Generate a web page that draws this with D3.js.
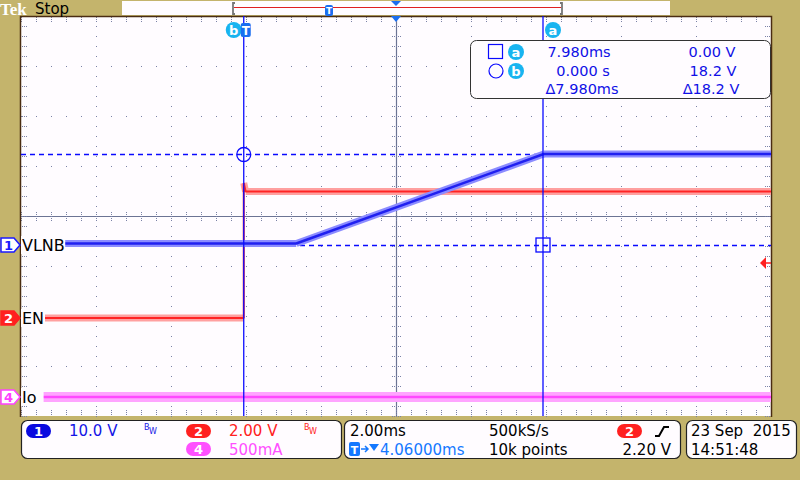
<!DOCTYPE html>
<html><head><meta charset="utf-8">
<script src="https://cdn.jsdelivr.net/npm/d3@7"></script>
<style>html,body{margin:0;padding:0;background:#c4b46c;}svg{display:block;}</style>
</head><body>
<script>
// ---- data (time in ms, channel values in V / A) ----
const horizCenterMs = 4.06;     // horizontal position
const msPerDiv = 2.0;
const ch1Name = "VLNB", ch2Name = "EN", ch4Name = "Io";
const ch1Scale = 10.0, ch2Scale = 2.0, ch4Scale = 0.5;   // per division
const ch1Pos = -0.58, ch2Pos = -2.04, ch4Pos = -3.62;    // ground position, divisions
const ch1Time = [-4.77, 1.40, 8.00, 14.06];
const ch1Volt = [0.3, 0.3, 18.2, 18.2];
const ch2Time = [-5.30, 0.00, 0.00, 0.05, 14.06];
const ch2Volt = [0.0, 0.0, 5.40, 5.06, 5.06];
const ch4Time = [-5.44, 14.06];
const ch4Amp = [0.0, 0.0];
const cursorATime = 7.980, cursorBTime = 0.000;
const cursorAVolt = 0.00, cursorBVolt = 18.2;
const triggerLevel = 2.20;
const readoutRows = [["7.980ms", "0.00 V"], ["0.000 s", "18.2 V"], ["\u0394" + "7.980ms", "\u0394" + "18.2 V"]];

const W = 800, H = 480;
const svg = d3.select("body").append("svg").attr("width", W).attr("height", H);
const F = "DejaVu Sans, sans-serif";

const x = d3.scaleLinear().domain([horizCenterMs - 5 * msPerDiv, horizCenterMs + 5 * msPerDiv]).range([21, 771]);
const yDiv = d3.scaleLinear().domain([-4, 4]).range([416, 16]);
const y1 = v => yDiv(ch1Pos + v / ch1Scale);
const y2 = v => yDiv(ch2Pos + v / ch2Scale);
const y4 = v => yDiv(ch4Pos + v / ch4Scale);

// background
svg.append("rect").attr("width", W).attr("height", H).attr("fill", "#c4b46c");
// graticule area
svg.append("rect").attr("x", 21).attr("y", 16).attr("width", 750).attr("height", 400).attr("fill", "#fffcff");

const gridCol = "#7a82a6";
const g = svg.append("g");
// grid dots
for (let k = 1; k < 10; k++) {
  if (k === 5) continue;
  const gx = 21 + k * 75;
  for (let yy = 16; yy <= 416; yy += 10) g.append("rect").attr("x", gx).attr("y", yy).attr("width", 1).attr("height", 1).attr("fill", gridCol);
}
for (let k = 1; k < 8; k++) {
  if (k === 4) continue;
  const gy = 16 + k * 50;
  for (let xx = 21; xx <= 771; xx += 15) g.append("rect").attr("x", xx).attr("y", gy).attr("width", 1).attr("height", 1).attr("fill", gridCol);
}
// center lines
g.append("line").attr("x1", 21).attr("x2", 771).attr("y1", 216.5).attr("y2", 216.5).attr("stroke", "#6c7494").attr("stroke-width", 1.2);
g.append("line").attr("x1", 396.5).attr("x2", 396.5).attr("y1", 16).attr("y2", 416).attr("stroke", "#6c7494").attr("stroke-width", 1.2);
for (let xx = 21; xx <= 771; xx += 15) {
  for (let d = -4; d <= 4; d += 2) g.append("rect").attr("x", xx).attr("y", 216 + d).attr("width", 1).attr("height", 1).attr("fill", gridCol);
  [0, 2, 4].forEach(d => { g.append("rect").attr("x", xx).attr("y", 17 + d).attr("width", 1).attr("height", 1).attr("fill", gridCol);
    g.append("rect").attr("x", xx).attr("y", 414 - d).attr("width", 1).attr("height", 1).attr("fill", gridCol); });
}
for (let yy = 16; yy <= 416; yy += 10) {
  for (let d = -4; d <= 4; d += 2) g.append("rect").attr("x", 396 + d).attr("y", yy).attr("width", 1).attr("height", 1).attr("fill", gridCol);
  [0, 2, 4].forEach(d => { g.append("rect").attr("x", 22 + d).attr("y", yy).attr("width", 1).attr("height", 1).attr("fill", gridCol);
    g.append("rect").attr("x", 769 - d).attr("y", yy).attr("width", 1).attr("height", 1).attr("fill", gridCol); });
}
// frame
svg.append("path").attr("d", "M20.5,417 V16.5 H771.5 V417").attr("fill", "none").attr("stroke", "#4a2c12").attr("stroke-width", 1.5);

// horizontal cursor dashed lines
const curBlue = "#0a0aff";
svg.append("line").attr("x1", 21).attr("x2", 771).attr("y1", y1(cursorBVolt) + 0.5).attr("y2", y1(cursorBVolt) + 0.5)
  .attr("stroke", curBlue).attr("stroke-width", 1.3).attr("stroke-dasharray", "5,4");
svg.append("line").attr("x1", 21).attr("x2", 771).attr("y1", y1(cursorAVolt) + 0.5).attr("y2", y1(cursorAVolt) + 0.5)
  .attr("stroke", curBlue).attr("stroke-width", 1.3).attr("stroke-dasharray", "5,4");

// traces: light noise band (non-vertical segments) + core
function trace(times, vals, yf, light, core, band, coreW) {
  const pts = times.map((t, i) => [x(t), yf(vals[i])]);
  const ln = d3.line();
  for (let i = 0; i < pts.length - 1; i++) {
    if (Math.abs(pts[i + 1][0] - pts[i][0]) < 0.5) continue;
    svg.append("path").attr("d", ln([pts[i], pts[i + 1]])).attr("fill", "none").attr("stroke", light).attr("stroke-width", band).attr("stroke-linecap", "butt");
  }
  svg.append("path").attr("d", ln(pts)).attr("fill", "none").attr("stroke", core).attr("stroke-width", coreW).attr("stroke-linejoin", "bevel");
}
trace(ch4Time, ch4Amp, y4, "#ffa4ff", "#ff48ff", 10, 2.5);
trace(ch2Time, ch2Volt, y2, "#ffa0a0", "#ff2424", 7, 2);
trace(ch1Time, ch1Volt, y1, "#8c8cff", "#2020f0", 7, 2.4);

// vertical cursors
const xa = x(cursorATime), xb = x(cursorBTime);
svg.append("line").attr("x1", xb).attr("x2", xb).attr("y1", 16).attr("y2", 416).attr("stroke", curBlue).attr("stroke-width", 1.3);
svg.append("line").attr("x1", xa).attr("x2", xa).attr("y1", 16).attr("y2", 416).attr("stroke", curBlue).attr("stroke-width", 1.3);
// cursor intersections
svg.append("circle").attr("cx", xb).attr("cy", y1(cursorBVolt) + 0.5).attr("r", 7).attr("fill", "none").attr("stroke", curBlue).attr("stroke-width", 1.3);
svg.append("rect").attr("x", xa - 7).attr("y", y1(cursorAVolt) - 7).attr("width", 14).attr("height", 14).attr("fill", "none").attr("stroke", curBlue).attr("stroke-width", 1.3);

// cursor labels at top
const cyan = "#18b4f0";
function circLabel(cx, cy, ch) {
  svg.append("circle").attr("cx", cx).attr("cy", cy).attr("r", 8).attr("fill", cyan);
  svg.append("text").attr("x", cx).attr("y", cy + 4.5).attr("text-anchor", "middle").attr("font-family", F).attr("font-weight", "bold")
    .attr("font-size", 13).attr("fill", "#fff").text(ch);
}
circLabel(xb - 10, 30, "b");
svg.append("rect").attr("x", xb - 3).attr("y", 23).attr("width", 10).attr("height", 14).attr("rx", 2).attr("fill", "#1a6ef0");
svg.append("text").attr("x", xb + 2).attr("y", 35).attr("text-anchor", "middle").attr("font-family", F).attr("font-weight", "bold").attr("font-size", 12).attr("fill", "#fff").text("T");
circLabel(xa + 10, 30, "a");
// trigger position triangle on graticule
svg.append("path").attr("d", `M${x(horizCenterMs) - 5},16 L${x(horizCenterMs) + 5},16 L${x(horizCenterMs)},22 Z`).attr("fill", "#1a6ef0");

// trigger level arrow on right
const yt = y2(triggerLevel);
svg.append("path").attr("d", `M760,${yt} L766,${yt - 6} L766,${yt + 6} Z`).attr("fill", "#ff2020");
svg.append("line").attr("x1", 764).attr("x2", 771).attr("y1", yt).attr("y2", yt).attr("stroke", "#ff2020").attr("stroke-width", 1.5);

// channel markers and labels
function chMarker(yc, num, fill, stroke, txt) {
  svg.append("path").attr("d", `M1,${yc - 7} H14 L20,${yc} L14,${yc + 7} H1 Z`).attr("fill", fill).attr("stroke", stroke).attr("stroke-width", 1.5);
  svg.append("text").attr("x", 8.5).attr("y", yc + 5).attr("text-anchor", "middle").attr("font-family", F).attr("font-weight", "bold").attr("font-size", 13).attr("fill", txt).text(num);
}
chMarker(y1(0), "1", "#fff", "#1a1aff", "#1a1aff");
chMarker(y2(0), "2", "#ff2020", "#ff2020", "#fff");
chMarker(y4(0), "4", "#fff", "#ff40ff", "#ff40ff");
function chLabel(yc, t) {
  svg.append("rect").attr("x", 21).attr("y", yc - 9).attr("width", t.length * 10.8 + 1).attr("height", 18).attr("fill", "#fffcff");
  svg.append("text").attr("x", 22).attr("y", yc + 6).attr("font-family", F).attr("font-size", 16).attr("fill", "#000").text(t);
}
chLabel(y1(0), ch1Name);
chLabel(y2(0), ch2Name);
chLabel(y4(0), ch4Name);

// cursor readout box
svg.append("rect").attr("x", 470.5).attr("y", 40.5).attr("width", 300).attr("height", 58).attr("rx", 6).attr("fill", "#fffcff").attr("stroke", "#333").attr("stroke-width", 1);
svg.append("rect").attr("x", 488.5).attr("y", 44.5).attr("width", 14).attr("height", 14).attr("fill", "none").attr("stroke", curBlue).attr("stroke-width", 1.2);
circLabel(516, 52, "a");
svg.append("circle").attr("cx", 496).attr("cy", 71).attr("r", 7).attr("fill", "none").attr("stroke", curBlue).attr("stroke-width", 1.2);
circLabel(516, 71, "b");
const rowY = [57, 76, 94];
const col1X = [579, 583, 582], col2X = [712, 713, 711];
readoutRows.forEach((r, i) => {
  svg.append("text").attr("x", col1X[i]).attr("y", rowY[i]).attr("text-anchor", "middle").attr("font-family", F).attr("font-size", 14.5).attr("fill", "#1010e6").text(r[0]);
  svg.append("text").attr("x", col2X[i]).attr("y", rowY[i]).attr("text-anchor", "middle").attr("font-family", F).attr("font-size", 14.5).attr("fill", "#1010e6").text(r[1]);
});

// top bar
svg.append("text").attr("x", 0).attr("y", 15).attr("font-family", "Liberation Serif, serif").attr("font-weight", "bold").attr("font-size", 17).attr("fill", "#fff").text("Tek");
svg.append("text").attr("x", 35).attr("y", 14).attr("font-family", F).attr("font-size", 15).attr("fill", "#000").text("Stop");
svg.append("rect").attr("x", 122).attr("y", 1).attr("width", 548).attr("height", 14).attr("fill", "#fffcff");
svg.append("line").attr("x1", 234).attr("x2", 561).attr("y1", 7.5).attr("y2", 7.5).attr("stroke", "#e02020").attr("stroke-width", 1.2);
svg.append("path").attr("d", "M235,3 H233 V14 H235").attr("fill", "none").attr("stroke", "#777").attr("stroke-width", 1.8);
svg.append("path").attr("d", "M560,3 H562 V14 H560").attr("fill", "none").attr("stroke", "#777").attr("stroke-width", 1.8);
svg.append("rect").attr("x", 325).attr("y", 5).attr("width", 8).attr("height", 11).attr("rx", 2).attr("fill", "#1a6ef0");
svg.append("text").attr("x", 329).attr("y", 14).attr("text-anchor", "middle").attr("font-family", F).attr("font-weight", "bold").attr("font-size", 9).attr("fill", "#fff").text("T");
svg.append("path").attr("d", "M391,1 L401,1 L396,6 Z").attr("fill", "#1a6ef0");

// bottom boxes
function box(x0, y0, w, h) {
  svg.append("rect").attr("x", x0 + 0.5).attr("y", y0 + 0.5).attr("width", w).attr("height", h).attr("rx", 6).attr("fill", "#fffcff").attr("stroke", "#222").attr("stroke-width", 1.2);
}
box(21, 420, 320, 38);
box(344, 420, 336, 38);
box(686, 420, 110, 38);
function pill(x0, y0, fill, num) {
  svg.append("rect").attr("x", x0).attr("y", y0).attr("width", 25).attr("height", 14).attr("rx", 7).attr("fill", fill);
  svg.append("text").attr("x", x0 + 12.5).attr("y", y0 + 12).attr("text-anchor", "middle").attr("font-family", F).attr("font-weight", "bold").attr("font-size", 13).attr("fill", "#fff").text(num);
}
function txt(xx, yy, t, col, size, anchor) {
  return svg.append("text").attr("x", xx).attr("y", yy).attr("font-family", F).attr("font-size", size || 15).attr("fill", col).attr("text-anchor", anchor || "start").text(t);
}
function bw(xx, col) {
  txt(xx, 430, "B", col, 8); txt(xx + 5, 434, "W", col, 8);
}
pill(26, 424, "#0a0ae0", "1");
txt(69, 436, ch1Scale.toFixed(1) + " V", "#1414e6");
bw(144, "#1414e6");
pill(186, 424, "#ff2020", "2");
txt(229, 436, ch2Scale.toFixed(2) + " V", "#ff2020");
bw(304, "#ff2020");
pill(186, 442, "#ff50ff", "4");
txt(229, 455, (ch4Scale * 1000) + "mA", "#ff50ff");

txt(350, 436, msPerDiv.toFixed(2) + "ms", "#000");
txt(489, 436, "500kS/s", "#000");
pill(617, 424, "#ff2020", "2");
svg.append("path").attr("d", "M655,436 H659 L664,427 H669").attr("fill", "none").attr("stroke", "#000").attr("stroke-width", 2);
svg.append("rect").attr("x", 349).attr("y", 442).attr("width", 11).attr("height", 14).attr("rx", 2).attr("fill", "#1478ff");
svg.append("text").attr("x", 354.5).attr("y", 454).attr("text-anchor", "middle").attr("font-family", F).attr("font-weight", "bold").attr("font-size", 11).attr("fill", "#fff").text("T");
svg.append("path").attr("d", "M361,449 H368 M365,446 L368,449 L365,452").attr("fill", "none").attr("stroke", "#1478ff").attr("stroke-width", 1.5);
svg.append("path").attr("d", "M369,444 H379 L374,451 Z").attr("fill", "#1478ff");
txt(380, 455, horizCenterMs.toFixed(5) + "ms", "#1478ff");
txt(489, 455, "10k points", "#000");
txt(671, 455, triggerLevel.toFixed(2) + " V", "#000", 15, "end");
txt(691, 436, "23 Sep\u00a0\u00a02015", "#000");
txt(691, 455, "14:51:48", "#000");
</script>
</body></html>
